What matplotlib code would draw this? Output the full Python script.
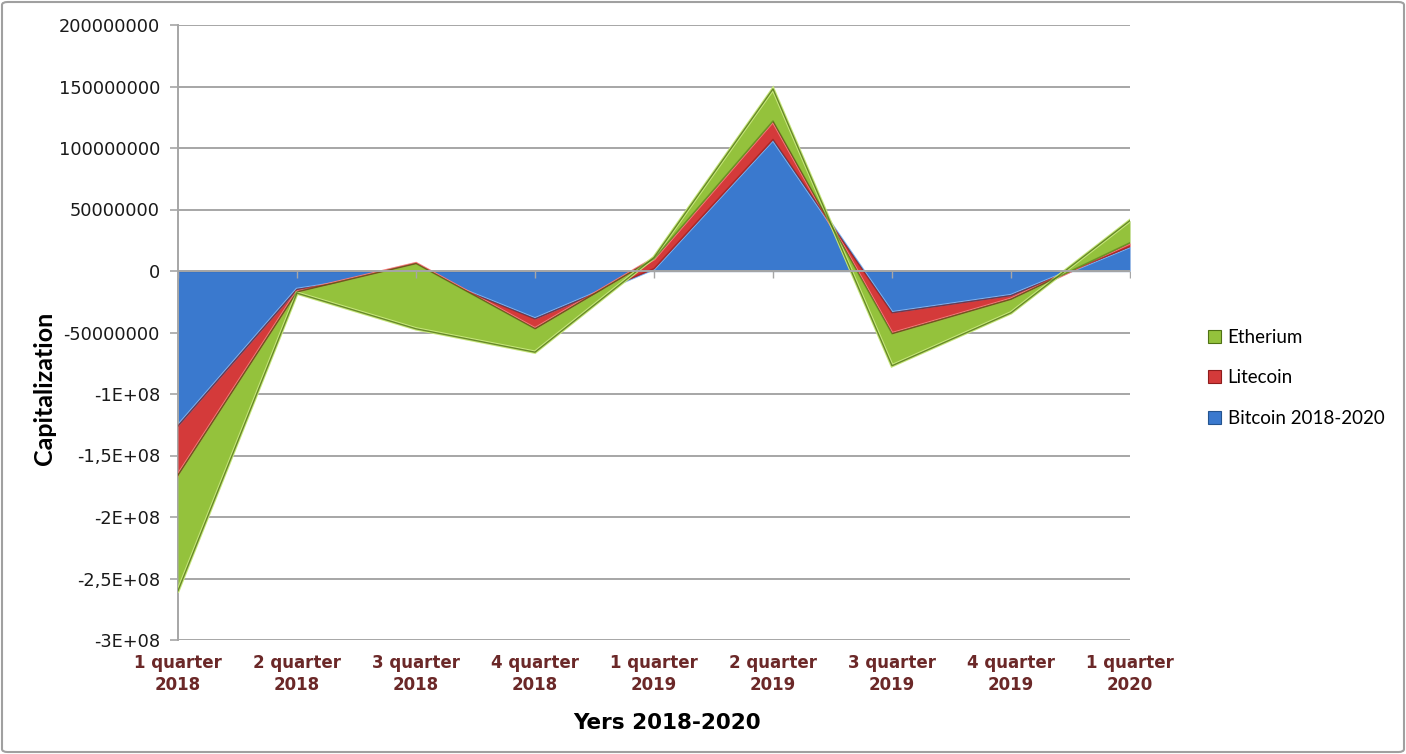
import matplotlib
matplotlib.use("Agg")
import matplotlib.pyplot as plt
import numpy as np
from matplotlib.patches import Rectangle, FancyBboxPatch

categories = ["1 quarter\n2018", "2 quarter\n2018", "3 quarter\n2018", "4 quarter\n2018",
              "1 quarter\n2019", "2 quarter\n2019", "3 quarter\n2019", "4 quarter\n2019",
              "1 quarter\n2020"]
bitcoin = [-126e6, -15e6, 0, -39e6, 2e6, 107e6, -34e6, -20e6, 20e6]
litecoin = [-40e6, -2e6, 6e6, -8e6, 8e6, 15e6, -17e6, -3e6, 3e6]
etherium = [-94e6, -1e6, -53e6, -19e6, 1e6, 26e6, -26e6, -11e6, 18e6]
series_names = ["Bitcoin 2018-2020", "Litecoin", "Etherium"]
ytick_vals = [-3e8, -2.5e8, -2e8, -1.5e8, -1e8, -5e7, 0, 5e7, 1e8, 1.5e8, 2e8]
ytick_labels = ["-3E+08", "-2,5E+08", "-2E+08", "-1,5E+08", "-1E+08", "-50000000", "0",
                "50000000", "100000000", "150000000", "200000000"]

fills = ["#3A79CE", "#D43A3A", "#94C23C"]
lights = ["#7FB2EE", "#F27A7A", "#C6E67A"]
darks = ["#24548F", "#8E1C1C", "#4F7214"]

fig = plt.figure(figsize=(14.06, 7.54), dpi=100)
fig.patch.set_facecolor("white")
ax = fig.add_axes([178/1406, 1-640/754, 952/1406, 615/754])

x = np.arange(len(categories))
data = [np.array(bitcoin), np.array(litecoin), np.array(etherium)]
cum = np.zeros(len(categories))

for y in ytick_vals:
    ax.axhline(y, color="#A6A6A6", lw=1.4, zorder=1)

for i, d in enumerate(data):
    lower = cum.copy()
    upper = cum + d
    ax.fill_between(x, lower, upper, color=fills[i], lw=0, zorder=2 + i)
    # bevel-like edges
    ax.plot(x, upper, color=lights[i], lw=2.5, zorder=2 + i, solid_joinstyle="miter")
    ax.plot(x, lower, color=darks[i], lw=1.0, alpha=0.6, zorder=2 + i)
    ax.plot(x, upper, color=darks[i], lw=1.0, alpha=0.8, zorder=2 + i)
    cum = upper

ax.axhline(0, color="#A6A6A6", lw=1.4, zorder=6)
ax.plot(x, np.zeros(len(x)), ls="none", marker=3, markersize=5, color="#A6A6A6", zorder=6)

ax.set_xlim(0, len(categories) - 1)
ax.set_ylim(-3e8, 2e8)
ax.set_xticks(x)
ax.set_xticklabels(categories, fontsize=12, fontweight="bold", color="#6B2828",
                   linespacing=1.3)
ax.tick_params(axis="x", length=0, pad=10)
ax.set_yticks(ytick_vals)
ax.set_yticklabels(ytick_labels, fontsize=12.8, color="#1A1A1A")
ax.tick_params(axis="y", length=6, width=1.2, color="#A6A6A6", pad=7)

for s in ["top", "right", "bottom"]:
    ax.spines[s].set_visible(False)
ax.spines["left"].set_color("#A6A6A6")
ax.spines["left"].set_linewidth(1.4)
ax.set_facecolor("white")

fig.text(45/1406, 1-388/754, "Capitalization", rotation=90, ha="center", va="center",
         fontsize=18, fontweight="bold", family="Lato", color="black")
fig.text(667/1406, 1-723/754, "Yers 2018-2020", ha="center", va="center",
         fontsize=15.5, fontweight="bold", color="black")

handles = [Rectangle((0, 0), 1, 1, facecolor=fills[i], edgecolor=darks[i], lw=0.8)
           for i in range(3)][::-1]
labels = series_names[::-1]
leg = fig.legend(handles, labels, loc="upper left", bbox_to_anchor=(1208/1406, 1-329/754),
                 frameon=False, prop={"family": "Lato", "size": 13.5},
                 handlelength=0.7, handleheight=0.7, handletextpad=0.35,
                 labelspacing=1.25, borderpad=0, borderaxespad=0)

border = FancyBboxPatch((2/1406, 2/754), 1402/1406, 750/754,
                        boxstyle="round,pad=0,rounding_size=0.004",
                        transform=fig.transFigure, fill=False, edgecolor="#A0A0A0", lw=1.5)
fig.patches.append(border)

fig.savefig("out.png", dpi=100)
